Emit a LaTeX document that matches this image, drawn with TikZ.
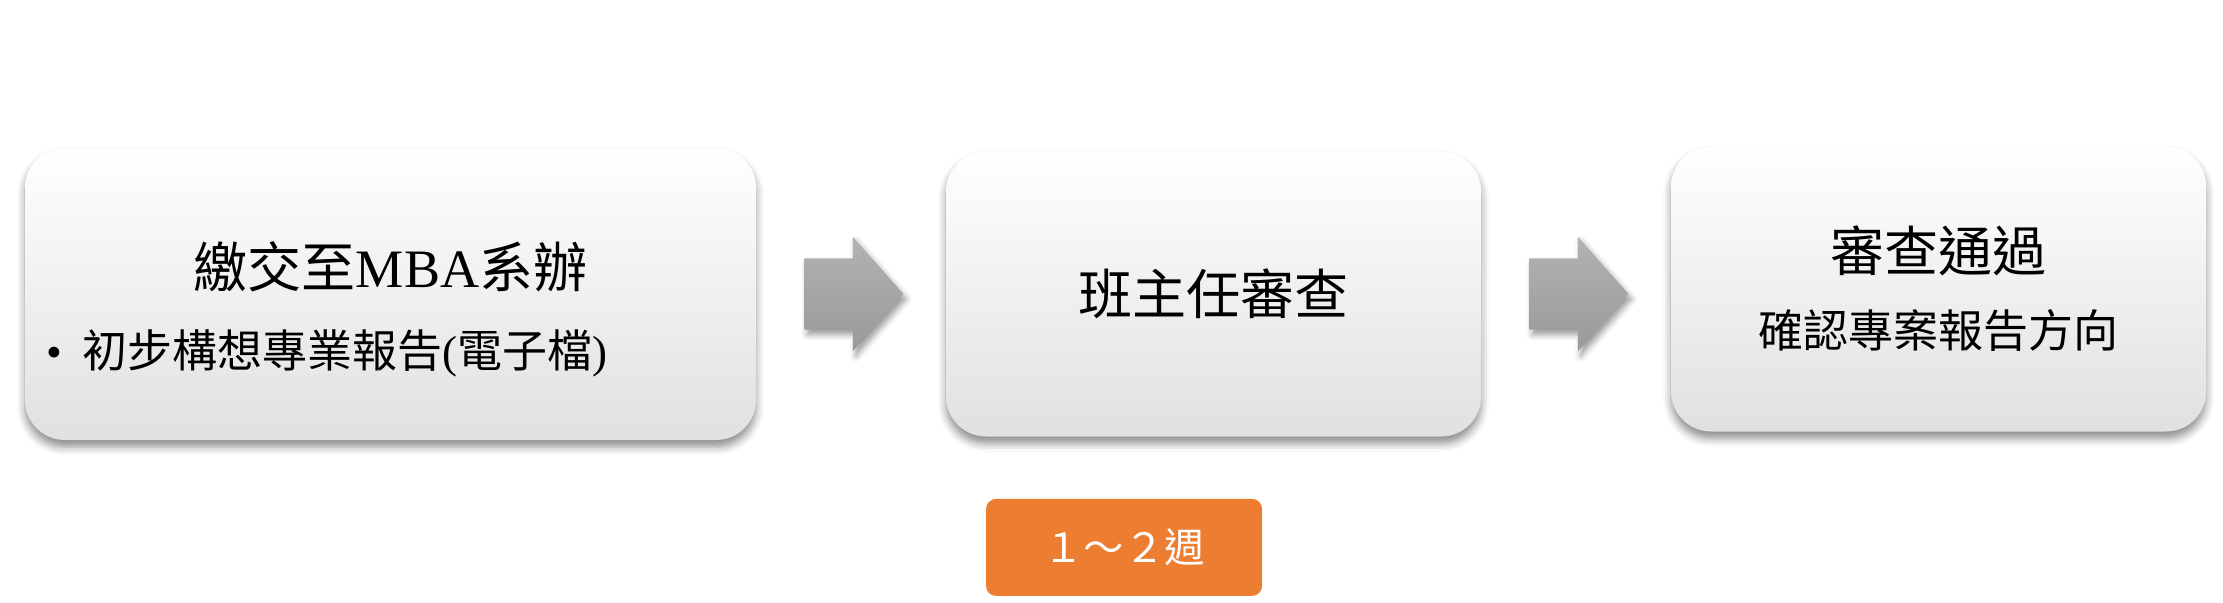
\documentclass[tikz,border=0pt]{standalone}
\usepackage{fontspec}
\setmainfont{Liberation Serif}
\newfontfamily\cjk{Noto Sans CJK TC}
\usepackage{tikz}
\usetikzlibrary{
	positioning,
	shapes.arrows,
	shadows.blur
}

\definecolor{weekorange}{HTML}{ED7D31}

\tikzset{
	stage/.style={rectangle, rounded corners=0.4cm, minimum width=5.35cm, minimum height=2.85cm,
		top color=white, middle color=white, bottom color=black!12,
		blur shadow={shadow xshift=0pt, shadow yshift=-0.07cm, shadow blur radius=0.08cm, shadow opacity=45}},
	flowarrow/.style={single arrow, inner xsep=0pt, inner ysep=0.35cm, minimum height=0.99cm, minimum width=1.13cm,
		single arrow head extend=0.215cm, single arrow tip angle=97,
		top color=black!30, bottom color=black!40,
		blur shadow={shadow xshift=0.03cm, shadow yshift=-0.05cm, shadow blur radius=0.06cm, shadow opacity=40}},
	stagetext/.style={font=\fontsize{15.4pt}{18pt}\selectfont},
	notetext/.style={font=\fontsize{12.8pt}{15pt}\selectfont},
	week/.style={rectangle, rounded corners=0.1cm, fill=weekorange, text=white,
		minimum width=2.76cm, minimum height=0.97cm, font=\fontsize{11.5pt}{14pt}\selectfont}
}

\begin{document}
\begin{tikzpicture}[node distance=0.47cm]
		\useasboundingbox (0,0) rectangle (22.23,6.02);

		\node[stage, minimum width=7.31cm, minimum height=2.92cm] (submit) at (3.905,3.08) {};
		\node[flowarrow, right=of submit] (arrow1) {};
		\node[stage, right=0.41cm of arrow1] (review) {};
		\node[flowarrow, right=of review] (arrow2) {};
		\node[stage, right=0.41cm of arrow2, yshift=0.05cm] (pass) {};

		\node[stagetext] (submit-title) at ([yshift=0.27cm]submit.center) {{\cjk 繳交至}MBA{\cjk 系辦}};
		\node[notetext, anchor=west] (submit-item) at ([xshift=0.1cm, yshift=-0.59cm]submit.west)
			{•\hspace{0.2cm}{\cjk 初步構想專業報告}({\cjk 電子檔})};

		\node[stagetext] (review-title) at (review.center) {\cjk 班主任審查};

		\node[stagetext] (pass-title) at ([yshift=0.385cm]pass.center) {\cjk 審查通過};
		\node[notetext] (pass-note) at ([yshift=-0.415cm]pass.center) {\cjk 確認專案報告方向};

		\node[week, below=0.61cm of review.south west, anchor=north west, xshift=0.4cm] (weeks)
			{\cjk １～２週};
	\end{tikzpicture}
\end{document}
